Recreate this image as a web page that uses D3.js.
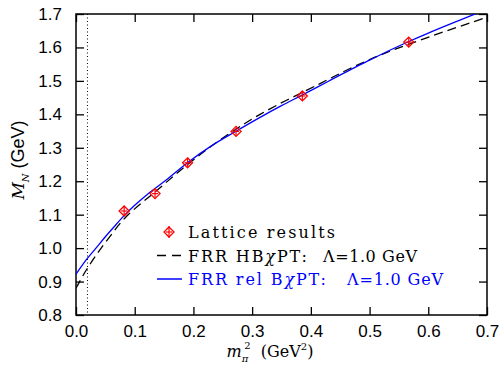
<!DOCTYPE html>
<html>
<head>
<meta charset="utf-8">
<script src="https://cdn.jsdelivr.net/npm/d3@7"></script>
<style>
  body { margin: 0; background: #fff; }
  .tick line { stroke: #000; stroke-width: 1.3; }
  .tick text { font-family: "Liberation Sans", Arial, sans-serif; font-size: 17px; fill: #000; }
</style>
</head>
<body>
<div id="chart"></div>
<script>
// lattice points, m_pi^2 (GeV^2) and M_N (GeV)
var latticeX = [0.082, 0.1346, 0.190, 0.2726, 0.3855, 0.5667];
var latticeY = [1.111, 1.163, 1.255, 1.349, 1.455, 1.616];
var latticeErr = [0.013, 0.012, 0.012, 0.012, 0.012, 0.013];

// FRR HB chi PT curve (dashed)
var hbX = [0, 0.017, 0.034, 0.057, 0.085, 0.136, 0.19, 0.245, 0.3135, 0.4157, 0.4668, 0.518, 0.586, 0.694, 0.7];
var hbY = [0.880, 0.933, 0.978, 1.033, 1.093, 1.170, 1.250, 1.323, 1.400, 1.492, 1.537, 1.577, 1.622, 1.687, 1.691];

// FRR rel B chi PT curve (solid blue)
var relX = [0, 0.017, 0.034, 0.05, 0.065, 0.082, 0.1, 0.126, 0.153, 0.191, 0.23, 0.271, 0.3135, 0.35, 0.385, 0.43, 0.47, 0.5, 0.54, 0.566, 0.6, 0.64, 0.6826, 0.69];
var relY = [0.922, 0.964, 1.000, 1.034, 1.064, 1.097, 1.128, 1.167, 1.203, 1.257, 1.305, 1.348, 1.391, 1.426, 1.4575, 1.499, 1.536, 1.562, 1.596, 1.617, 1.643, 1.672, 1.702, 1.707];

var physPoint = 0.0195; // dotted line, physical m_pi^2

var xTicks = [0, 0.1, 0.2, 0.3, 0.4, 0.5, 0.6, 0.7];
var yTicks = [0.8, 0.9, 1.0, 1.1, 1.2, 1.3, 1.4, 1.5, 1.6, 1.7];

var width = 500, height = 365;
var margin = ({ top: 14, right: 13, bottom: 50, left: 76 });

var svg = d3.select("#chart").append("svg")
    .attr("width", width)
    .attr("height", height);

var x = d3.scaleLinear().domain([0, 0.7]).range([margin.left, width - margin.right]);
var y = d3.scaleLinear().domain([0.8, 1.7]).range([height - margin.bottom, margin.top]);

svg.append("clipPath").attr("id", "plotclip")
    .append("rect")
    .attr("x", x(0)).attr("y", y(1.7))
    .attr("width", x(0.7) - x(0)).attr("height", y(0.8) - y(1.7));

// axes, ticks pointing inward
svg.append("g")
    .attr("transform", `translate(0,${y(0.8)})`)
    .call(d3.axisBottom(x).tickValues(xTicks).tickFormat(d3.format(".1f")).tickSize(-8).tickSizeOuter(0).tickPadding(10))
    .call(g => g.select(".domain").remove());

svg.append("g")
    .attr("transform", `translate(0,${y(1.7)})`)
    .call(d3.axisTop(x).tickValues(xTicks).tickFormat("").tickSize(-8).tickSizeOuter(0))
    .call(g => g.select(".domain").remove());

svg.append("g")
    .attr("transform", `translate(${x(0)},0)`)
    .call(d3.axisLeft(y).tickValues(yTicks).tickFormat(d3.format(".1f")).tickSize(-8).tickSizeOuter(0).tickPadding(14))
    .call(g => g.select(".domain").remove());

svg.append("g")
    .attr("transform", `translate(${x(0.7)},0)`)
    .call(d3.axisRight(y).tickValues(yTicks).tickFormat("").tickSize(-8).tickSizeOuter(0))
    .call(g => g.select(".domain").remove());

// frame
svg.append("rect")
    .attr("x", x(0)).attr("y", y(1.7))
    .attr("width", x(0.7) - x(0)).attr("height", y(0.8) - y(1.7))
    .attr("fill", "none").attr("stroke", "#000").attr("stroke-width", 1.5);

// dotted physical point line
svg.append("line")
    .attr("x1", x(physPoint)).attr("x2", x(physPoint))
    .attr("y1", y(1.7)).attr("y2", y(0.8))
    .attr("stroke", "#000").attr("stroke-width", 1)
    .attr("stroke-dasharray", "1,2.5");

var line = d3.line().curve(d3.curveCatmullRom);

var plot = svg.append("g").attr("clip-path", "url(#plotclip)");

plot.append("path")
    .attr("d", line(hbX.map((d, i) => [x(d), y(hbY[i])])))
    .attr("fill", "none").attr("stroke", "#000").attr("stroke-width", 1.3)
    .attr("stroke-dasharray", "9,5");

plot.append("path")
    .attr("d", line(relX.map((d, i) => [x(d), y(relY[i])])))
    .attr("fill", "none").attr("stroke", "#0000ff").attr("stroke-width", 1.3);

// lattice markers: diamond with error bar cross
var drawMarker = (g, cx, cy, ytop, ybot) => {
    let s = 5;
    g.append("path")
        .attr("d", `M${cx},${cy - s}L${cx + s},${cy}L${cx},${cy + s}L${cx - s},${cy}Z`)
        .attr("fill", "none").attr("stroke", "#ff0000").attr("stroke-width", 1.3);
    g.append("line")
        .attr("x1", cx).attr("x2", cx).attr("y1", ytop).attr("y2", ybot)
        .attr("stroke", "#ff0000").attr("stroke-width", 1.2);
    g.append("line")
        .attr("x1", cx - 3).attr("x2", cx + 3).attr("y1", cy).attr("y2", cy)
        .attr("stroke", "#ff0000").attr("stroke-width", 1.2);
};

var marks = svg.append("g");
latticeX.forEach((d, i) => {
    drawMarker(marks, x(d), y(latticeY[i]), y(latticeY[i] + latticeErr[i]), y(latticeY[i] - latticeErr[i]));
});

// legend
var legendFont = "'DejaVu Serif', 'Liberation Serif', serif";
var legend = svg.append("g");
drawMarker(legend, 169, 232, 226, 238);
legend.append("line")
    .attr("x1", 157).attr("x2", 182).attr("y1", 255.5).attr("y2", 255.5)
    .attr("stroke", "#000").attr("stroke-width", 1.5).attr("stroke-dasharray", "9,6");
legend.append("line")
    .attr("x1", 157).attr("x2", 182).attr("y1", 279).attr("y2", 279)
    .attr("stroke", "#0000ff").attr("stroke-width", 1.5);

// each piece: text, x start, baseline, width
var legendPieces = [
    { parts: ["Lattice results"], x: 188, y: 238, w: 147, color: "#000" },
    { parts: ["FRR HB", "χ", "PT:"], x: 188, y: 261.5, w: 119, color: "#000" },
    { parts: ["Λ=1.0 GeV"], x: 323, y: 261.5, w: 94, color: "#000" },
    { parts: ["FRR rel B", "χ", "PT:"], x: 188, y: 285, w: 138, color: "#0000ff" },
    { parts: ["Λ=1.0 GeV"], x: 347, y: 285, w: 96, color: "#0000ff" }
];
legendPieces.forEach(r => {
    let t = legend.append("text")
        .attr("x", r.x).attr("y", r.y)
        .attr("fill", r.color)
        .attr("textLength", r.w)
        .attr("lengthAdjust", "spacing")
        .style("font-family", legendFont)
        .style("font-size", "16px");
    r.parts.forEach(p => {
        let ts = t.append("tspan").text(p);
        if (p === "χ") ts.style("font-style", "italic");
    });
});

// x axis label
var xl = svg.append("text")
    .attr("x", 270).attr("y", 357)
    .attr("text-anchor", "middle")
    .style("font-family", "'DejaVu Serif', serif")
    .style("font-size", "16px")
    .attr("xml:space", "preserve");
xl.append("tspan").text("m").style("font-style", "italic");
xl.append("tspan").text("π").attr("dy", 5).style("font-size", "10px").style("font-style", "italic");
xl.append("tspan").text("2").attr("dy", -13).attr("dx", -4).style("font-size", "10px");
xl.append("tspan").text("  (GeV").attr("dy", 8);
xl.append("tspan").text("2").attr("dy", -7).style("font-size", "10px");
xl.append("tspan").text(")").attr("dy", 7);

// y axis label
var yl = svg.append("text")
    .attr("transform", "translate(24,160) rotate(-90)")
    .attr("text-anchor", "middle")
    .style("font-size", "18px")
    .attr("xml:space", "preserve");
yl.append("tspan").text("M").style("font-family", "'DejaVu Serif', serif").style("font-style", "italic").style("font-size", "17px");
yl.append("tspan").text("N").attr("dy", 5).style("font-size", "10px").style("font-family", "'DejaVu Serif', serif").style("font-style", "italic");
yl.append("tspan").text(" (GeV)").attr("dy", -5).style("font-family", "'Liberation Sans', sans-serif");
</script>
</body>
</html>
